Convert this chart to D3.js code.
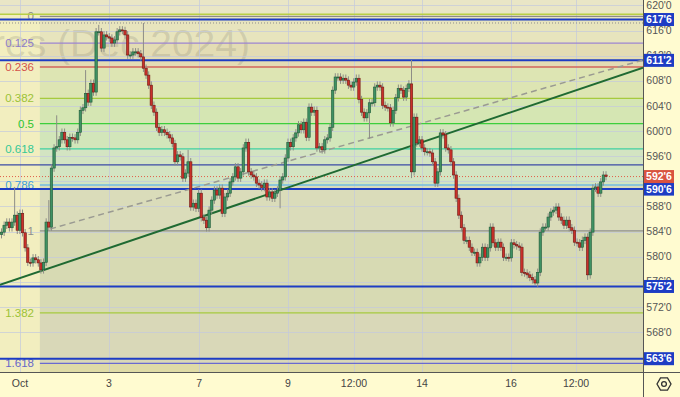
<!DOCTYPE html>
<html>
<head>
<meta charset="utf-8">
<script src="https://cdn.jsdelivr.net/npm/d3@7"></script>
<style>
  body { margin: 0; background: #fffbd0; }
  svg { display: block; font-family: "Liberation Sans", Arial, sans-serif; }
</style>
</head>
<body>
<svg id="chart" width="680" height="397"></svg>
<script>
// price data (closes, open = previous close)
var firstOpen = 583.5;
var closes = [
  583.9, 585.0, 585.5, 584.6, 585.5, 586.6, 584.2, 586.9, 583.8, 581.4,
  579.1, 579.0, 579.8, 579.5, 579.0, 577.9, 579.1, 585.5, 584.7, 594.1,
  597.3, 597.5, 598.6, 599.8, 598.6, 597.5, 599.0, 598.9, 598.6, 599.8,
  603.3, 603.7, 606.0, 604.6, 607.6, 606.2, 615.8, 615.8, 613.2, 615.3,
  615.0, 614.8, 614.0, 614.5, 615.8, 616.1, 616.0, 615.3, 612.1, 612.1,
  612.6, 612.6, 612.3, 611.8, 610.0, 608.9, 607.3, 604.1, 603.0, 600.6,
  599.8, 600.2, 599.8, 599.4, 598.9, 598.0, 595.1, 596.2, 595.9, 592.5,
  593.3, 595.1, 587.9, 588.5, 587.7, 590.1, 586.2, 585.8, 584.6, 587.4,
  589.0, 590.6, 589.8, 590.9, 586.9, 589.5, 590.1, 591.9, 592.7, 594.3,
  592.5, 593.5, 597.3, 598.2, 593.5, 593.0, 592.7, 591.7, 591.4, 591.0,
  591.7, 589.5, 590.3, 589.3, 590.1, 590.6, 592.2, 592.7, 595.7, 598.2,
  597.5, 598.9, 599.7, 601.0, 600.2, 601.4, 599.0, 603.8, 603.0, 603.3,
  597.3, 597.5, 597.0, 598.6, 598.9, 600.6, 606.5, 608.6, 608.6, 608.1,
  608.4, 608.1, 607.3, 607.0, 607.8, 608.4, 605.0, 603.0, 602.1, 602.9,
  604.5, 604.5, 607.0, 607.3, 607.0, 604.1, 603.8, 603.7, 601.3, 603.3,
  605.3, 606.8, 606.5, 605.4, 606.8, 607.5, 593.5, 602.2, 598.1, 598.6,
  597.3, 596.7, 596.7, 596.5, 595.1, 591.7, 593.5, 599.7, 599.4, 597.3,
  597.0, 595.1, 593.0, 589.3, 586.6, 584.6, 582.6, 582.6, 581.5, 580.7,
  580.7, 579.0, 579.9, 581.5, 579.9, 581.4, 584.7, 582.2, 581.5, 582.3,
  581.5, 579.9, 579.9, 579.8, 582.2, 581.9, 581.7, 581.5, 577.5, 577.4,
  577.1, 576.7, 576.3, 575.8, 577.5, 583.9, 584.7, 584.7, 586.3, 587.1,
  587.4, 587.9, 586.3, 585.8, 585.0, 585.8, 584.6, 584.2, 582.3, 582.2,
  581.5, 582.6, 583.1, 577.1, 583.9, 590.9, 591.1, 590.1, 591.9, 593.0,
  592.75
];
// longer wicks seen in the picture: [candle index, price]
var wickHighs = [[5, 591.1], [18, 589.0], [21, 602.5], [32, 609.7], [37, 616.9],
                 [54, 617.2], [71, 597.0], [156, 611.3]];
var wickLows = [[106, 587.7], [140, 598.8], [156, 592.5], [203, 575.5], [223, 576.3]];
var wickDefault = 0.6;

// time axis
var timeLabels = ["Oct", "3", "7", "9", "12:00", "14", "16", "12:00"];
var timeIndex = [7.0, 40.9, 75.2, 109.0, 134.1, 160.0, 193.9, 218.6];

// price axis
var priceTicks = d3.range(568, 621, 4);

// fibonacci retracement
var fibTop = 618.25, fibBottom = 584.1;
var fibLevels = [0, 0.125, 0.236, 0.382, 0.5, 0.618, 0.786, 1, 1.382, 1.618];
var fibNames = ["0", "0.125", "0.236", "0.382", "0.5", "0.618", "0.786", "1", "1.382", "1.618"];
var fibStart = 14.6;

// horizontal levels with axis labels, and the last price
var levelPrices = [617.75, 611.25, 590.75, 575.25, 563.75];
var lastPrice = 592.75;
var navyLevel = 594.6;
var topLevel = 618.6;
var dottedLevel = 617.2;

// trend lines as [index, price]
var trendSolid = [[-0.6, 575.5], [244.1, 610.1]];
var trendDashed = [[18.5, 584.4], [244.1, 611.3]];

var W = 680, H = 397, plotW = 643, plotH = 372;
var svg = d3.select("#chart");

var x = d3.scaleLinear().domain([0, closes.length - 1]).range([1.5, 606]);
var y = d3.scaleLinear().domain([568, 620]).range([332, 5.4]);
var fibPrice = function(l) { return fibTop - l * (fibTop - fibBottom); };

svg.append("defs").append("clipPath").attr("id", "plotclip")
  .append("rect").attr("width", plotW).attr("height", plotH);

svg.append("rect").attr("width", W).attr("height", H).attr("fill", "#fffbd0");
var plot = svg.append("g").attr("clip-path", "url(#plotclip)");
plot.append("rect").attr("width", plotW).attr("height", plotH).attr("fill", "#f2eebf");
plot.append("rect").attr("width", plotW).attr("height", y(topLevel)).attr("fill", "#e9e6c6");

// fib bands
var bandColors = ["#e7e4bd", "#e3dcb4", "#dde5b3", "#d5e6b3", "#d2e6ba", "#d3e4c2",
                  "#dadcba", "#d7dab3", "#d9d8b8"];
var fx0 = x(fibStart);
plot.selectAll("rect.band")
  .data(d3.range(fibLevels.length - 1))
  .enter().append("rect")
    .attr("class", "band")
    .attr("x", fx0)
    .attr("width", plotW - fx0)
    .attr("y", function(i) { return y(fibPrice(fibLevels[i])); })
    .attr("height", function(i) { return y(fibPrice(fibLevels[i + 1])) - y(fibPrice(fibLevels[i])); })
    .attr("fill", function(i) { return bandColors[i]; });
plot.append("rect")
  .attr("x", fx0).attr("width", plotW - fx0)
  .attr("y", y(fibPrice(1.618))).attr("height", plotH - y(fibPrice(1.618)))
  .attr("fill", "#dfdba6");

// watermark
plot.append("text")
  .attr("x", 250).attr("y", 57)
  .attr("text-anchor", "end")
  .attr("font-size", 39)
  .attr("fill", "rgba(110,110,100,0.2)")
  .text("Futures (Dec 2024)");

// grid
plot.selectAll("line.hgrid")
  .data(priceTicks)
  .enter().append("line")
    .attr("x1", 0).attr("x2", plotW)
    .attr("y1", function(d) { return Math.round(y(d)) + 0.5; })
    .attr("y2", function(d) { return Math.round(y(d)) + 0.5; })
    .attr("stroke", "#c3c9dd").attr("stroke-opacity", 0.7);
plot.selectAll("line.vgrid")
  .data(timeIndex)
  .enter().append("line")
    .attr("x1", function(d) { return Math.round(x(d)) + 0.5; })
    .attr("x2", function(d) { return Math.round(x(d)) + 0.5; })
    .attr("y1", 0).attr("y2", plotH)
    .attr("stroke", "#c3c9dd").attr("stroke-opacity", 0.7);

// fib lines and labels
var fibColors = ["#8a8a8a", "#9c84d0", "#d2645c", "#a6ca3e", "#3ccf3c", "#3fd0a2",
                 "#72bde2", "#8f8f8f", "#a6ca3e", "#6a6ad0"];
var fibTextColors = ["#8a8a8a", "#8e7ccc", "#d4524a", "#9cc236", "#2fc42f", "#34c896",
                     "#3c9fdc", "#8f8f8f", "#9cc236", "#6666c8"];
plot.selectAll("line.fib")
  .data(fibLevels)
  .enter().append("line")
    .attr("x1", fx0).attr("x2", plotW)
    .attr("y1", function(d) { return y(fibPrice(d)); })
    .attr("y2", function(d) { return y(fibPrice(d)); })
    .attr("stroke", function(d, i) { return fibColors[i]; })
    .attr("stroke-width", 1.3);
plot.selectAll("text.fib")
  .data(fibLevels)
  .enter().append("text")
    .attr("x", 34)
    .attr("y", function(d) { return y(fibPrice(d)); })
    .attr("dy", "0.35em")
    .attr("text-anchor", "end")
    .attr("font-size", 11.5)
    .attr("fill", function(d, i) { return fibTextColors[i]; })
    .text(function(d, i) { return fibNames[i]; });

// horizontal levels
function hline(p, color, width, dash) {
  plot.append("line")
    .attr("x1", 0).attr("x2", plotW)
    .attr("y1", y(p)).attr("y2", y(p))
    .attr("stroke", color).attr("stroke-width", width)
    .attr("stroke-dasharray", dash || null);
}
hline(topLevel, "#b8cf45", 1.5);
hline(dottedLevel, "#8c8c8c", 1, "1,2");
hline(navyLevel, "#3b4ba6", 1.2);
hline(lastPrice, "#e0604a", 1, "1,2");
levelPrices.forEach(function(p) { hline(p, "#1d3cc4", 2); });

// trend lines
var line = d3.line().x(function(d) { return x(d[0]); }).y(function(d) { return y(d[1]); });
plot.append("path").attr("d", line(trendDashed))
  .attr("fill", "none").attr("stroke", "#9a9a92").attr("stroke-width", 1.5)
  .attr("stroke-dasharray", "6,4");
plot.append("path").attr("d", line(trendSolid))
  .attr("fill", "none").attr("stroke", "#1f6a32").attr("stroke-width", 2);

// candles
var hiMap = new Map(wickHighs), loMap = new Map(wickLows);
var candles = closes.map(function(c, i) {
  var o = i === 0 ? firstOpen : closes[i - 1];
  return {
    i: i, o: o, c: c,
    h: hiMap.has(i) ? hiMap.get(i) : Math.max(o, c) + wickDefault,
    l: loMap.has(i) ? loMap.get(i) : Math.min(o, c) - wickDefault
  };
});
var cg = plot.append("g");
cg.selectAll("line.wick")
  .data(candles)
  .enter().append("line")
    .attr("x1", function(d) { return x(d.i); })
    .attr("x2", function(d) { return x(d.i); })
    .attr("y1", function(d) { return y(d.h); })
    .attr("y2", function(d) { return y(d.l); })
    .attr("stroke", "#8d8d86").attr("stroke-width", 1);
cg.selectAll("rect.body")
  .data(candles)
  .enter().append("rect")
    .attr("x", function(d) { return x(d.i) - 1.2; })
    .attr("width", 2.4)
    .attr("y", function(d) { return y(Math.max(d.o, d.c)); })
    .attr("height", function(d) { return Math.max(1, Math.abs(y(d.o) - y(d.c))); })
    .attr("fill", function(d) { return d.c >= d.o ? "#3f9163" : "#c9302a"; })
    .attr("stroke", function(d) { return d.c >= d.o ? "#1f5a38" : "#6e1a14"; })
    .attr("stroke-width", 0.6);

// axes frame
svg.append("line").attr("x1", plotW + 0.5).attr("x2", plotW + 0.5).attr("y1", 0).attr("y2", H)
  .attr("stroke", "#555");
svg.append("line").attr("x1", 0).attr("x2", W).attr("y1", plotH + 0.5).attr("y2", plotH + 0.5)
  .attr("stroke", "#555");

// price labels
var fmt = function(p) {
  var f = Math.floor(p);
  return f + "'" + Math.round((p - f) * 8);
};
svg.selectAll("text.ptick")
  .data(priceTicks)
  .enter().append("text")
    .attr("x", 659).attr("y", function(d) { return y(d); })
    .attr("dy", "0.35em")
    .attr("text-anchor", "middle")
    .attr("font-size", 10.5)
    .attr("fill", "#555")
    .text(fmt);

var boxes = levelPrices.map(function(p) { return { p: p, color: "#1d3cc4" }; })
  .concat([{ p: lastPrice, color: "#d9533f" }]);
var bg = svg.selectAll("g.pbox").data(boxes).enter().append("g");
bg.append("rect")
  .attr("x", plotW + 1).attr("width", 30)
  .attr("y", function(d) { return y(d.p) - 6.5; })
  .attr("height", 13)
  .attr("fill", function(d) { return d.color; });
bg.append("text")
  .attr("x", 659).attr("y", function(d) { return y(d.p); })
  .attr("dy", "0.36em")
  .attr("text-anchor", "middle")
  .attr("font-size", 10.5).attr("font-weight", "bold")
  .attr("fill", "#fff")
  .text(function(d) { return fmt(d.p); });

// time labels
svg.selectAll("text.ttick")
  .data(timeIndex)
  .enter().append("text")
    .attr("x", function(d) { return x(d); })
    .attr("y", 387)
    .attr("text-anchor", "middle")
    .attr("font-size", 10.5)
    .attr("fill", "#444")
    .text(function(d, i) { return timeLabels[i]; });

// settings icon
var hex = d3.range(6).map(function(k) {
  var a = Math.PI / 3 * k;
  return [664 + 7 * Math.cos(a), 384 + 7 * Math.sin(a)];
});
svg.append("polygon").attr("points", hex.join(" "))
  .attr("fill", "none").attr("stroke", "#333").attr("stroke-width", 1.3);
svg.append("circle").attr("cx", 664).attr("cy", 384).attr("r", 2.4)
  .attr("fill", "none").attr("stroke", "#333").attr("stroke-width", 1.3);
</script>
</body>
</html>
